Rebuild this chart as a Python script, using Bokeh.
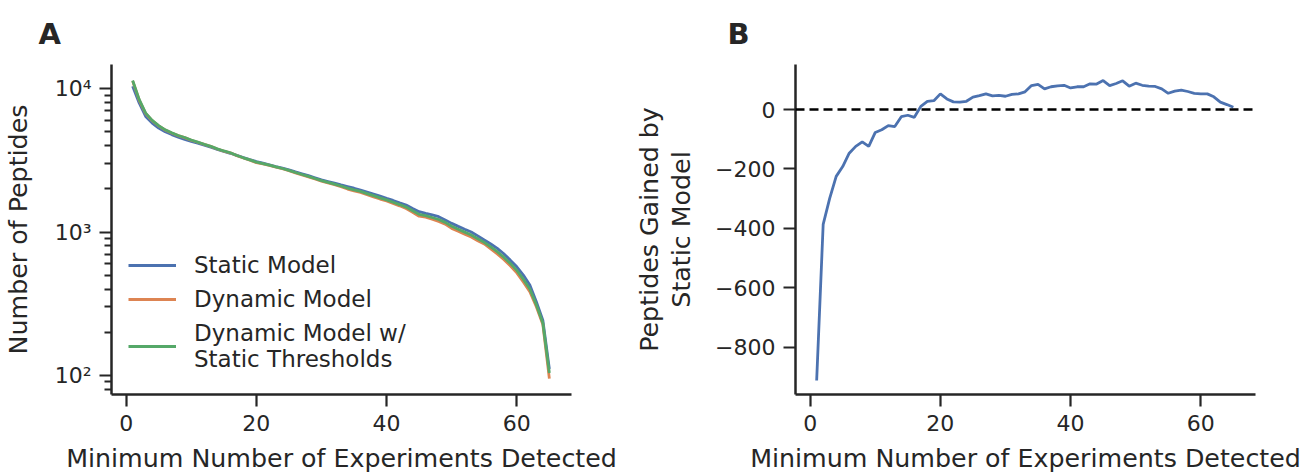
from bokeh.plotting import figure
from bokeh.models import Range1d, FixedTicker, Legend, LegendItem, Span
from bokeh.layouts import row
from bokeh.embed import file_html
from bokeh.resources import INLINE

# ---------------- data ----------------
min_experiments = list(range(1, 66))

static_model = [10400, 7940, 6400, 5750, 5310, 5000, 4780, 4590, 4430, 4290,
                4160, 4030, 3900, 3770, 3650, 3540, 3420, 3310, 3200, 3100,
                3020, 2940, 2860, 2790, 2716, 2630, 2550, 2470, 2390, 2312,
                2250, 2190, 2130, 2075, 2020, 1960, 1900, 1840, 1780, 1718,
                1660, 1600, 1544, 1460, 1387, 1350, 1315, 1280, 1215, 1149,
                1095, 1045, 1000, 940, 880, 825, 769, 705, 637, 572,
                501, 427, 326, 243, 111]

dynamic_model = [11313, 8327, 6699, 5975, 5502, 5147, 4904, 4699, 4554, 4367,
                 4228, 4084, 3957, 3794, 3669, 3566, 3409, 3282, 3170, 3047,
                 2984, 2914, 2835, 2762, 2674, 2583, 2497, 2424, 2342, 2267,
                 2199, 2137, 2070, 1994, 1935, 1890, 1823, 1760, 1698, 1645,
                 1583, 1523, 1457, 1374, 1289, 1269, 1227, 1183, 1136, 1060,
                 1013, 966, 922, 870, 825, 763, 703, 644, 582, 519,
                 448, 384, 301, 226, 95]

dynamic_static_thr = [11400, 8400, 6750, 6000, 5520, 5160, 4920, 4710, 4560, 4380,
                      4235, 4090, 3960, 3800, 3675, 3570, 3415, 3293, 3182, 3068,
                      2998, 2924, 2845, 2773, 2691, 2602, 2518, 2442, 2361, 2285,
                      2219, 2158, 2094, 2026, 1969, 1918, 1854, 1792, 1731, 1674,
                      1614, 1554, 1492, 1408, 1328, 1301, 1262, 1222, 1168, 1096,
                      1046, 998, 953, 898, 847, 788, 729, 668, 604, 540,
                      469, 401, 311, 232, 104]

gained_by_static = [-913, -387, -299, -225, -192, -147, -124, -109, -124, -77,
                    -68, -54, -57, -24, -19, -26, 11, 28, 30, 53,
                    36, 26, 25, 28, 42, 47, 53, 46, 48, 45,
                    51, 53, 60, 81, 85, 70, 77, 80, 82, 73,
                    77, 77, 87, 86, 98, 81, 88, 97, 79, 89,
                    82, 79, 78, 70, 55, 62, 66, 61, 55, 53,
                    53, 43, 25, 17, 8]

series_names = ["Static Model", "Dynamic Model", "Dynamic Model w/\nStatic Thresholds"]
x_ticks = [0, 20, 40, 60]
a_y_ticks = [100, 1000, 10000]
a_y_labels = ["10\u00b2", "10\u00b3", "10\u2074"]
b_y_ticks = [0, -200, -400, -600, -800]

# ---------------- style ----------------
FONT = "DejaVu Sans"
TXT = "#262626"
COLORS = ["#4C72B0", "#DD8452", "#55A868"]
TICK_SIZE = "22px"
LABEL_SIZE = "25.3px"


def style(p):
    p.outline_line_color = None
    p.grid.visible = False
    p.background_fill_color = "white"
    p.border_fill_color = "white"
    for ax in p.axis:
        ax.axis_line_width = 2.5
        ax.axis_line_color = TXT
        ax.major_tick_line_width = 2.2
        ax.major_tick_line_color = TXT
        ax.minor_tick_line_width = 1.8
        ax.minor_tick_line_color = TXT
        ax.major_tick_out = 12
        ax.major_tick_in = 0
        ax.minor_tick_out = 7
        ax.minor_tick_in = 0
        ax.major_label_text_font = FONT
        ax.major_label_text_font_size = TICK_SIZE
        ax.major_label_text_color = TXT
        ax.axis_label_text_font = FONT
        ax.axis_label_text_font_size = LABEL_SIZE
        ax.axis_label_text_font_style = "normal"
        ax.axis_label_text_color = TXT
        ax.axis_label_text_line_height = 1.1
    p.title.text_font = FONT
    p.title.text_font_size = "29px"
    p.title.text_font_style = "bold"
    p.title.text_color = TXT
    p.title.align = "left"
    p.title.standoff = 28


# ---------------- panel A ----------------
pa = figure(width=631, height=473, frame_width=460, frame_height=330,
            min_border_left=111, min_border_right=60, min_border_top=63,
            min_border_bottom=80, y_axis_type="log",
            x_range=Range1d(-2.25, 68.4), y_range=Range1d(73.6, 14730),
            output_backend="svg", toolbar_location=None, title="A")
style(pa)
pa.title.offset = -73

renderers = []
for vals, col in zip([static_model, dynamic_model, dynamic_static_thr], COLORS):
    r = pa.line(min_experiments, vals, line_color=col, line_width=2.8)
    renderers.append(r)

minor = sorted(set([m * d for d in [10, 100, 1000] for m in range(2, 10)]))
pa.yaxis.ticker = FixedTicker(ticks=a_y_ticks, minor_ticks=minor)
pa.yaxis.major_label_overrides = dict(zip(a_y_ticks, a_y_labels))
pa.xaxis.ticker = FixedTicker(ticks=x_ticks, minor_ticks=[])
pa.xaxis.axis_label = "Minimum Number of Experiments Detected"
pa.yaxis.axis_label = "Number of Peptides"
pa.xaxis.major_label_standoff = 8
pa.yaxis.major_label_standoff = 8
pa.xaxis.axis_label_standoff = 10
pa.yaxis.axis_label_standoff = 19

legend = Legend(items=[LegendItem(label=n, renderers=[r]) for n, r in zip(series_names, renderers)],
                location=(17, 22), border_line_color=None, background_fill_alpha=0,
                padding=0, spacing=8, glyph_width=48, glyph_height=20,
                label_standoff=18, label_text_font=FONT, label_text_font_size="23px",
                label_text_color=TXT, label_height=23, margin=0)
pa.add_layout(legend)

# ---------------- panel B ----------------
pb = figure(width=676, height=473, frame_width=460, frame_height=330,
            min_border_left=164, min_border_right=52, min_border_top=63,
            min_border_bottom=80,
            x_range=Range1d(-2.25, 68.4), y_range=Range1d(-960, 152),
            output_backend="svg", toolbar_location=None, title="B")
style(pb)
pb.title.offset = -68
pb.add_layout(Span(location=0, dimension="width", line_color="black",
                   line_width=2.5, line_dash="9 5"))
pb.line(min_experiments, gained_by_static, line_color=COLORS[0], line_width=2.8)
pb.xaxis.ticker = FixedTicker(ticks=x_ticks, minor_ticks=[])
pb.yaxis.ticker = FixedTicker(ticks=b_y_ticks, minor_ticks=[])
pb.yaxis.major_label_overrides = {t: (str(t).replace("-", "\u2212")) for t in b_y_ticks}
pb.xaxis.axis_label = "Minimum Number of Experiments Detected"
pb.yaxis.axis_label = "Peptides Gained by\nStatic Model"
pb.xaxis.major_label_standoff = 8
pb.yaxis.major_label_standoff = 8
pb.xaxis.axis_label_standoff = 10
pb.yaxis.axis_label_standoff = 16

layout = row(pa, pb)
open("out.html", "w").write(file_html(layout, INLINE))
